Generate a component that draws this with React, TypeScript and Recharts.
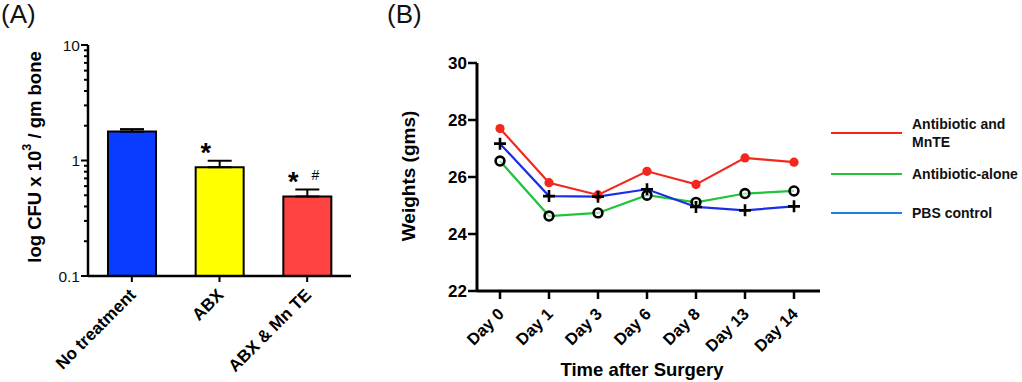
import React from 'react';
import { BarChart, Bar, XAxis, YAxis, Cell, ErrorBar, LabelList, LineChart, Line, Label } from 'recharts';

const FONT = "'Liberation Sans', Arial, Helvetica, sans-serif";

// Panel A data
const groups = ['No treatment', 'ABX', 'ABX & Mn TE'];
const cfu = [1.78, 0.875, 0.488];
const cfuErr = [0.09, 0.12, 0.073];
const starMarks = ['', '*', '*'];
const hashMarks = ['', '', '#'];
const barColors = ['#0a3cff', '#ffff00', '#ff4242'];
const logMajorTicks = [0.1, 1, 10];
const logMinorTicks = [0.2, 0.3, 0.4, 0.5, 0.6, 0.7, 0.8, 0.9, 2, 3, 4, 5, 6, 7, 8, 9];

// Panel B data
const days = ['Day 0', 'Day 1', 'Day 3', 'Day 6', 'Day 8', 'Day 13', 'Day 14'];
const mnte = [27.7, 25.8, 25.37, 26.2, 25.74, 26.67, 26.52];
const abxAlone = [26.56, 24.63, 24.74, 25.36, 25.11, 25.42, 25.51];
const pbs = [27.17, 25.33, 25.31, 25.57, 24.95, 24.83, 24.97];
const weightTicks = [22, 24, 26, 28, 30];
const seriesNames = ['Antibiotic and\nMnTE', 'Antibiotic-alone', 'PBS control'];
const seriesColors = ['#f2281e', '#1fc43c', '#1a2ee6'];
const legendColors = ['#f2281e', '#1fc43c', '#1e7fe0'];

const barData = groups.map((name, i) => ({
  name,
  value: cfu[i],
  err: [0, cfuErr[i]],
  star: starMarks[i],
  hash: hashMarks[i],
}));

const lineData = days.map((day, i) => ({ day, mnte: mnte[i], abx: abxAlone[i], pbs: pbs[i] }));

const allLogTicks = [...logMajorTicks, ...logMinorTicks].sort((a, b) => a - b);

const LogTick = (props: any) => {
  const { x, y, payload } = props;
  const major = logMajorTicks.includes(payload.value);
  const len = major ? 7 : 4;
  return (
    <g>
      <line x1={x - len} x2={x} y1={y} y2={y} stroke="#000" strokeWidth={2} />
      {major && (
        <text x={x - len - 1} y={y} dy="0.36em" textAnchor="end" fontFamily={FONT} fontSize={15.5} fill="#111">
          {String(payload.value)}
        </text>
      )}
    </g>
  );
};

const CatTickA = (props: any) => {
  const { x, y, payload } = props;
  const ax = x + 5;
  const ay = y + 20;
  return (
    <g>
      <line x1={x} x2={x} y1={y} y2={y + 6} stroke="#000" strokeWidth={2} />
      <text x={ax} y={ay} textAnchor="end" transform={`rotate(-45 ${ax} ${ay})`} fontFamily={FONT} fontWeight="bold" fontSize={17} fill="#000">
        {payload.value}
      </text>
    </g>
  );
};

const CatTickB = (props: any) => {
  const { x, y, payload } = props;
  const ax = x + 5;
  const ay = y + 24;
  return (
    <g>
      <line x1={x} x2={x} y1={y} y2={y + 8} stroke="#000" strokeWidth={2.5} />
      <text x={ax} y={ay} textAnchor="end" transform={`rotate(-45 ${ax} ${ay})`} fontFamily={FONT} fontWeight="bold" fontSize={16.5} fill="#000">
        {payload.value}
      </text>
    </g>
  );
};

const renderMarks = (props: any) => {
  const { x, y, width, index } = props;
  const d = barData[index];
  const cx = x + width / 2;
  return (
    <g>
      {d.star && (
        <text x={cx - 14} y={y - 5} textAnchor="middle" fontFamily={FONT} fontWeight="bold" fontSize={27} fill="#000">
          {d.star}
        </text>
      )}
      {d.hash && (
        <text x={cx + 8} y={y - 16} textAnchor="middle" fontFamily={FONT} fontSize={14} fill="#000">
          {d.hash}
        </text>
      )}
    </g>
  );
};

const RedDot = (props: any) => {
  const { cx, cy, index } = props;
  return <circle key={`r${index}`} cx={cx} cy={cy} r={4.6} fill={seriesColors[0]} />;
};
const RingDot = (props: any) => {
  const { cx, cy, index } = props;
  return <circle key={`g${index}`} cx={cx} cy={cy} r={4.4} fill="#fff" fillOpacity={0.6} stroke="#000" strokeWidth={2.6} />;
};
const PlusDot = (props: any) => {
  const { cx, cy, index } = props;
  return (
    <path key={`p${index}`} d={`M${cx - 6},${cy}H${cx + 6}M${cx},${cy - 6}V${cy + 6}`} stroke="#000" strokeWidth={2.6} fill="none" />
  );
};

export default function App() {
  return (
    <div style={{ position: 'absolute', left: 0, top: 0, width: 1022, height: 382, background: '#fff', fontFamily: FONT, overflow: 'hidden' }}>
      <div style={{ position: 'absolute', left: 1, top: 0, fontSize: 26, lineHeight: '28px', color: '#111' }}>(A)</div>
      <div style={{ position: 'absolute', left: 387, top: 0, fontSize: 26, lineHeight: '28px', color: '#111' }}>(B)</div>

      <div style={{ position: 'absolute', left: 0, top: 0 }}>
        <BarChart width={361} height={382} data={barData} margin={{ top: 45, right: 10, bottom: 0, left: 0 }}>
          <XAxis
            dataKey="name"
            height={106}
            tickSize={0}
            tickMargin={0}
            interval={0}
            tick={<CatTickA />}
            axisLine={{ stroke: '#000', strokeWidth: 2.5 }}
            tickLine={false}
          />
          <YAxis
            type="number"
            scale="log"
            domain={[0.1, 10]}
            allowDataOverflow
            ticks={allLogTicks}
            interval={0}
            width={88}
            tickSize={0}
            tickMargin={0}
            tick={<LogTick />}
            tickLine={false}
            axisLine={{ stroke: '#000', strokeWidth: 2.5 }}
          >
            <Label
              content={() => (
                <text x={34} y={157} transform="rotate(-90 34 157)" textAnchor="middle" dominantBaseline="central" fontFamily={FONT} fontWeight="bold" fontSize={18.5} fill="#000">
                  log CFU x 10<tspan dy={-7} fontSize={12.5}>3</tspan>
                  <tspan dy={7}> / gm bone</tspan>
                </text>
              )}
            />
          </YAxis>
          <Bar dataKey="value" barSize={48} stroke="#000" strokeWidth={2} isAnimationActive={false}>
            {barData.map((d, i) => (
              <Cell key={d.name} fill={barColors[i]} />
            ))}
            <ErrorBar dataKey="err" width={12} stroke="#000" strokeWidth={2} direction="y" />
            <LabelList dataKey="star" content={renderMarks} />
          </Bar>
        </BarChart>
      </div>

      <div style={{ position: 'absolute', left: 380, top: 0 }}>
        <LineChart width={642} height={382} data={lineData} margin={{ top: 63, right: 202, bottom: 0, left: 0 }}>
          <XAxis
            dataKey="day"
            height={91}
            padding={{ left: 23, right: 26 }}
            tickSize={0}
            tickMargin={0}
            interval={0}
            tick={<CatTickB />}
            tickLine={false}
            axisLine={{ stroke: '#000', strokeWidth: 3 }}
          >
            <Label
              content={() => (
                <text x={262} y={376} textAnchor="middle" fontFamily={FONT} fontWeight="bold" fontSize={18.5} fill="#000">
                  Time after Surgery
                </text>
              )}
            />
          </XAxis>
          <YAxis
            type="number"
            domain={[22, 30]}
            ticks={weightTicks}
            interval={0}
            width={97}
            tickSize={9}
            tickMargin={1}
            tick={{ fontFamily: FONT, fontWeight: 'bold', fontSize: 17, fill: '#000' }}
            tickLine={{ stroke: '#000', strokeWidth: 2.5 }}
            axisLine={{ stroke: '#000', strokeWidth: 3 }}
          >
            <Label
              content={() => (
                <text x={28} y={176} transform="rotate(-90 28 176)" textAnchor="middle" dominantBaseline="central" fontFamily={FONT} fontWeight="bold" fontSize={19} fill="#000">
                  Weights (gms)
                </text>
              )}
            />
          </YAxis>
          <Line dataKey="mnte" name={seriesNames[0]} stroke={seriesColors[0]} strokeWidth={2.2} dot={RedDot} isAnimationActive={false} />
          <Line dataKey="abx" name={seriesNames[1]} stroke={seriesColors[1]} strokeWidth={2.2} dot={RingDot} isAnimationActive={false} />
          <Line dataKey="pbs" name={seriesNames[2]} stroke={seriesColors[2]} strokeWidth={2.2} dot={PlusDot} isAnimationActive={false} />
        </LineChart>
      </div>

      {seriesNames.map((name, i) => {
        const ys = [133, 174, 213];
        return (
          <div key={name} style={{ position: 'absolute', left: 831, top: ys[i] - 20, height: 40, display: 'flex', alignItems: 'center' }}>
            <div style={{ width: 71, height: 2.5, background: legendColors[i] }} />
            <div style={{ marginLeft: 10, fontSize: 14, fontWeight: 'bold', lineHeight: '18px', whiteSpace: 'pre-line', color: '#111' }}>{name}</div>
          </div>
        );
      })}
    </div>
  );
}
